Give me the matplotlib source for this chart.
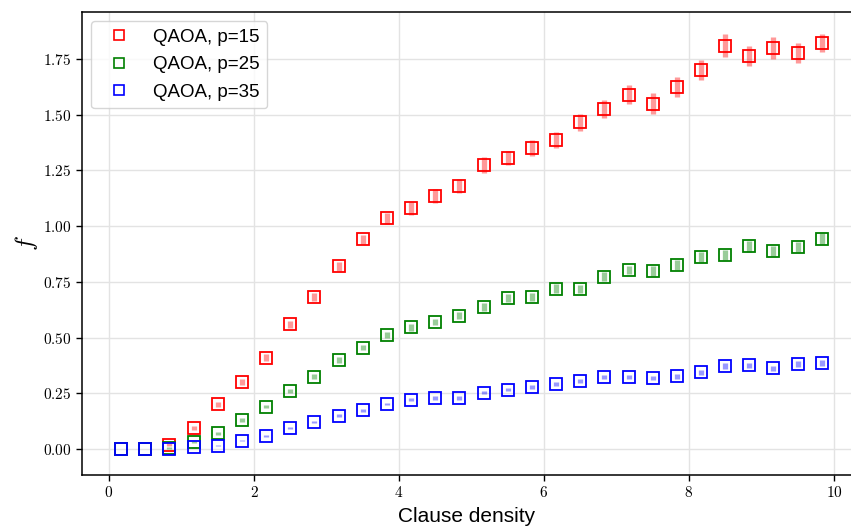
import matplotlib
matplotlib.use("Agg")
import matplotlib.pyplot as plt
import numpy as np
from matplotlib.ticker import FuncFormatter
from matplotlib.lines import Line2D

plt.rcParams['mathtext.fontset'] = 'cm'
plt.rcParams['font.family'] = ['Liberation Sans', 'DejaVu Sans']

# clause densities
density = [0.167, 0.5, 0.833, 1.167, 1.5, 1.833, 2.167, 2.5, 2.833, 3.167,
           3.5, 3.833, 4.167, 4.5, 4.833, 5.167, 5.5, 5.833, 6.167, 6.5,
           6.833, 7.167, 7.5, 7.833, 8.167, 8.5, 8.833, 9.167, 9.5, 9.833]

f_p15 = [0.0, 0.0, 0.02, 0.095, 0.20, 0.30, 0.41, 0.56, 0.68, 0.82,
         0.94, 1.035, 1.08, 1.135, 1.18, 1.275, 1.305, 1.35, 1.385, 1.465,
         1.525, 1.59, 1.55, 1.625, 1.70, 1.81, 1.765, 1.80, 1.775, 1.82]
err_p15 = [0.0, 0.0, 0.005, 0.01, 0.01, 0.012, 0.015, 0.015, 0.018, 0.02,
           0.02, 0.025, 0.028, 0.03, 0.032, 0.035, 0.03, 0.035, 0.035, 0.04,
           0.04, 0.042, 0.045, 0.045, 0.045, 0.05, 0.045, 0.05, 0.045, 0.04]

f_p25 = [0.0, 0.0, 0.005, 0.033, 0.07, 0.13, 0.19, 0.26, 0.325, 0.40,
         0.455, 0.51, 0.546, 0.57, 0.598, 0.636, 0.677, 0.682, 0.72, 0.718,
         0.773, 0.803, 0.80, 0.825, 0.861, 0.872, 0.909, 0.89, 0.905, 0.944]
err_p25 = [0.0, 0.0, 0.003, 0.005, 0.006, 0.007, 0.008, 0.01, 0.01, 0.012,
           0.012, 0.014, 0.015, 0.015, 0.016, 0.018, 0.018, 0.02, 0.02, 0.02,
           0.02, 0.02, 0.022, 0.022, 0.022, 0.022, 0.025, 0.022, 0.022, 0.025]

f_p35 = [0.0, 0.0, 0.0, 0.008, 0.015, 0.037, 0.06, 0.093, 0.12, 0.15,
         0.174, 0.202, 0.221, 0.229, 0.23, 0.253, 0.266, 0.277, 0.292, 0.304,
         0.323, 0.324, 0.318, 0.327, 0.345, 0.372, 0.375, 0.362, 0.381, 0.387]
err_p35 = [0.0, 0.0, 0.0, 0.002, 0.003, 0.003, 0.004, 0.004, 0.005, 0.005,
           0.006, 0.006, 0.007, 0.007, 0.008, 0.008, 0.008, 0.009, 0.009, 0.01,
           0.01, 0.01, 0.01, 0.011, 0.011, 0.012, 0.012, 0.012, 0.012, 0.013]

series = [(f_p15, err_p15, 'red', 'QAOA, p=15'),
          (f_p25, err_p25, 'green', 'QAOA, p=25'),
          (f_p35, err_p35, 'blue', 'QAOA, p=35')]

fig = plt.figure(figsize=(8.51, 5.27), dpi=100)
ax = fig.add_axes([82/851, 52/527, 770/851, 463/527])

handles = []
for vals, errs, col, lab in series:
    ax.errorbar(density, vals, yerr=errs, fmt='none', ecolor=col,
                elinewidth=3.8, alpha=0.4, capsize=0, zorder=2)
    ax.plot(density, vals, 's', mfc='none', mec=col, ms=9, mew=1.3, zorder=3)
    handles.append(Line2D([], [], ls='none', marker='s', mfc='none', mec=col,
                          ms=7.5, mew=1.2, label=lab))

ax.set_xlim(-0.373, 10.25)
ax.set_ylim(-0.1166, 1.9605)
ax.set_xticks([0, 2, 4, 6, 8, 10])
ax.set_yticks(np.arange(0, 1.76, 0.25))
ax.xaxis.set_major_formatter(FuncFormatter(lambda v, p: '$%d$' % v))
ax.yaxis.set_major_formatter(FuncFormatter(lambda v, p: '$%.2f$' % v))
ax.tick_params(labelsize=11, direction='out', length=4, width=1)
ax.grid(True, color='#e3e3e3', lw=1)
ax.set_axisbelow(True)
for s in ax.spines.values():
    s.set_linewidth(1.1)

ax.set_xlabel('Clause density', fontsize=15, labelpad=5)
ax.set_ylabel('$f$', fontsize=18, labelpad=2)

ax.legend(handles=handles, loc='upper left', fontsize=13.5, handlelength=2.1,
          handletextpad=0.8, labelspacing=0.55, borderaxespad=0.5)

fig.savefig('out.png', dpi=100)
